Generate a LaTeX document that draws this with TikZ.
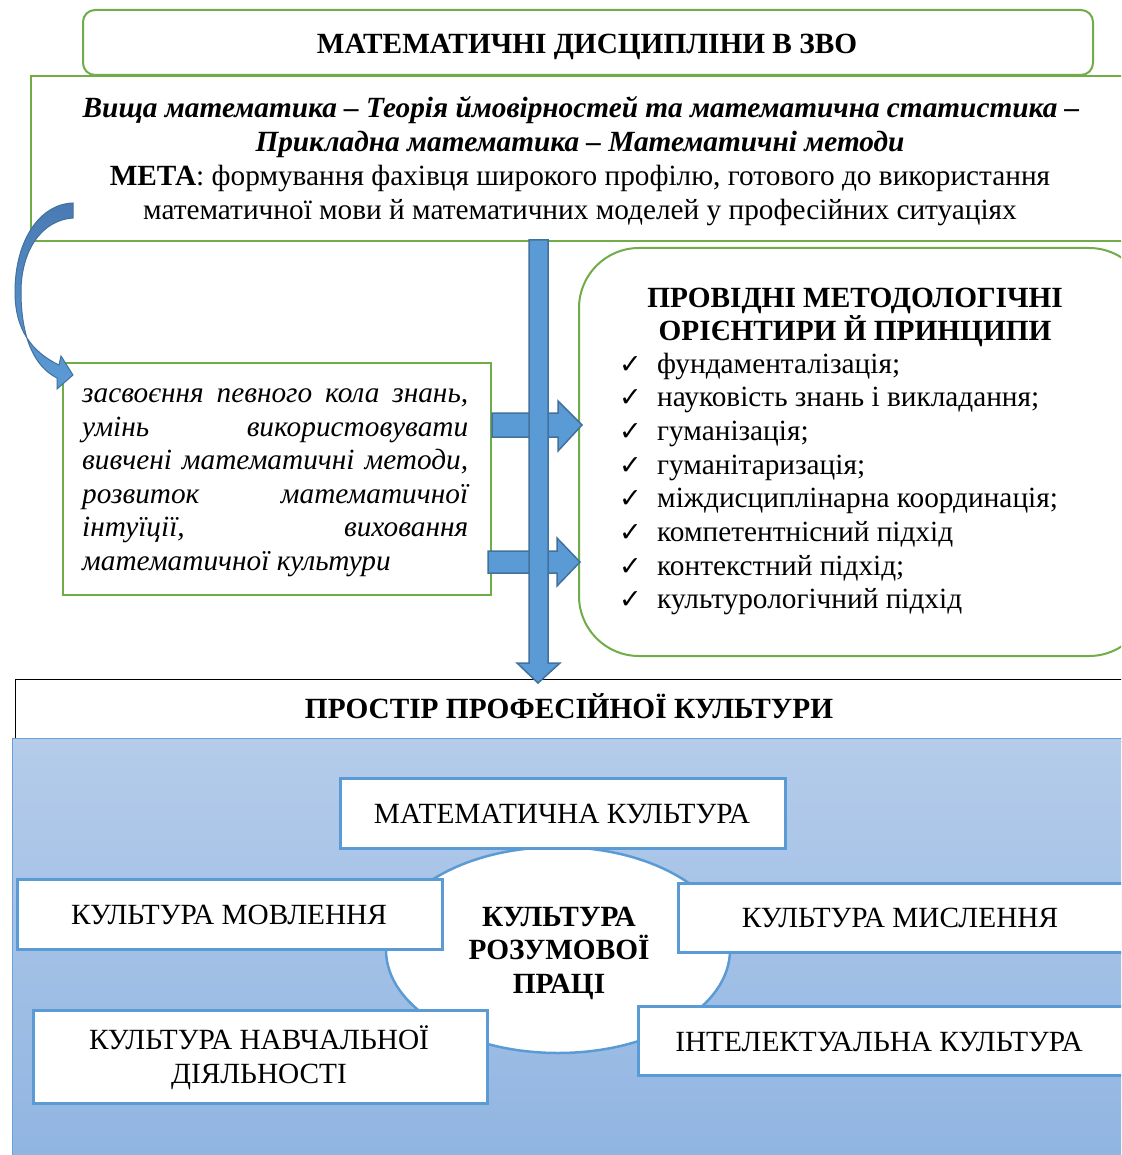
\documentclass[tikz,border=0pt]{standalone}
\usepackage{fontspec}
\setmainfont{Liberation Serif}
\newfontfamily\symfnt{DejaVu Sans}
\usetikzlibrary{shapes.geometric,calc}
\definecolor{grn}{HTML}{70AD47}
\definecolor{blu}{HTML}{5B9BD5}
\definecolor{bludk}{HTML}{41719C}
\definecolor{arrtop}{HTML}{4A7AB3}
\definecolor{bgtop}{RGB}{181,204,234}
\definecolor{bgbot}{RGB}{143,180,225}
\definecolor{bgedge}{HTML}{6A9FD8}
\newcommand{\fsz}{\fontsize{29.3}{34}\selectfont}
\tikzset{
  gbox/.style={draw=grn, line width=2pt, fill=white, inner sep=0pt, anchor=north west},
  bbox/.style={draw=blu, line width=2.5pt, fill=white, inner sep=0pt, anchor=north west},
  barrow/.style={fill=blu, draw=bludk, line width=1.5pt, line join=miter},
  txt/.style={inner sep=0pt, anchor=base, font=\fsz},
  txtl/.style={txt, anchor=base west},
}
\newcommand{\jline}[1]{\makebox[386pt][s]{#1}}
\begin{document}
\begin{tikzpicture}[x=1pt,y=-1pt]
\clip (0,0) rectangle (1121,1155);
\fill[white] (0,0) rectangle (1121,1155);

% top boxes
\node[gbox, rounded corners=12pt, minimum width=1010pt, minimum height=65pt] (top) at (82,9) {};
\node[txt, font=\fsz\bfseries] (toptxt) at (587,54) {МАТЕМАТИЧНІ ДИСЦИПЛІНИ В ЗВО};
\node[gbox, minimum width=1110pt, minimum height=165pt] (goal) at (30,75) {};
\node[txt, font=\fsz\bfseries\itshape] (g1) at (581,118) {Вища математика – Теорія ймовірностей та математична статистика –};
\node[txt, font=\fsz\bfseries\itshape] (g2) at (580,152) {Прикладна математика – Математичні методи};
\node[txt] (g3) at (580,186) {\textbf{МЕТА}: формування фахівця широкого профілю, готового до використання};
\node[txt] (g4) at (580,220) {математичної мови й математичних моделей у професійних ситуаціях};

% left box
\node[gbox, minimum width=428pt, minimum height=232pt] (left) at (62,362) {};
\begin{scope}[every node/.style={txtl, font=\fsz\itshape}]
\node (l1) at (82,402) {\jline{засвоєння певного кола знань,}};
\node (l2) at (82,436) {\jline{умінь використовувати}};
\node (l3) at (82,469) {\jline{вивчені математичні методи,}};
\node (l4) at (82,503) {\jline{розвиток математичної}};
\node (l5) at (82,536) {\jline{інтуїції, виховання}};
\node (l6) at (82,570) {математичної культури};
\end{scope}

% right box
\node[gbox, rounded corners=60pt, minimum width=570pt, minimum height=408pt] (right) at (578,247) {};
\node[txt, font=\fsz\bfseries] (rt1) at (855,307) {ПРОВІДНІ МЕТОДОЛОГІЧНІ};
\node[txt, font=\fsz\bfseries] (rt2) at (855,340) {ОРІЄНТИРИ Й ПРИНЦИПИ};
\foreach \t [count=\i] in {фундаменталізація;, науковість знань і викладання;, гуманізація;, гуманітаризація;, міждисциплінарна координація;, компетентнісний підхід, контекстний підхід;, культурологічний підхід}{
  \pgfmathsetmacro{\yy}{373+33.7*(\i-1)}
  \node[txtl, font=\fontsize{27}{30}\symfnt] (ck\i) at (619,\yy) {✓};
  \node[txtl] (it\i) at (657,\yy) {\t};
}

% horizontal block arrows
\draw[barrow] (492,413) -- (558,413) -- (558,401) -- (582,425) -- (558,451) -- (558,437) -- (492,437) -- cycle;
\draw[barrow] (488,551) -- (557,551) -- (557,538) -- (580,562) -- (557,586) -- (557,573) -- (488,573) -- cycle;

% bottom area
\node[draw=black, line width=1pt, fill=white, inner sep=0pt, anchor=north west, minimum width=1120pt, minimum height=62pt] (space) at (15,679) {};
\node[txt, font=\fsz\bfseries] (spacetxt) at (569,718) {ПРОСТІР ПРОФЕСІЙНОЇ КУЛЬТУРИ};
\shade[top color=bgtop, bottom color=bgbot, draw=bgedge, line width=1pt] (12,738) rectangle (1140,1175);

% vertical arrow
\draw[barrow] (529,240) -- (548,240) -- (548,663) -- (560,663) -- (538,683) -- (517,663) -- (529,663) -- cycle;

% curved arrow
\shade[top color=arrtop, bottom color=blu, draw=bludk, line width=1pt]
  (73,203) .. controls (40,204) and (15,240) .. (15,292)
  .. controls (15,330) and (32,352) .. (59,365)
  -- (61,356) -- (73,375) -- (57,389) -- (57,378)
  .. controls (33,366) and (21,335) .. (21,292)
  .. controls (21,250) and (42,220) .. (73,218) -- cycle;

% ellipse and culture boxes
\node[ellipse, draw=blu, line width=2.5pt, fill=white, minimum width=344pt, minimum height=206pt] (ell) at (558,950) {};
\node[bbox, minimum width=445pt, minimum height=70pt] (mk) at (339,777) {};
\node[bbox, minimum width=425pt, minimum height=70pt] (km) at (16,878) {};
\node[bbox, minimum width=470pt, minimum height=69pt] (kmy) at (677,882) {};
\node[bbox, minimum width=454pt, minimum height=93pt] (kn) at (32,1009) {};
\node[bbox, minimum width=510pt, minimum height=69pt] (ik) at (637,1005) {};

\node[txt] (mkt) at (562,823) {МАТЕМАТИЧНА КУЛЬТУРА};
\node[txt] (kmt) at (229,924) {КУЛЬТУРА МОВЛЕННЯ};
\node[txt] (kmyt) at (900,927) {КУЛЬТУРА МИСЛЕННЯ};
\node[txt] (knt1) at (259,1049) {КУЛЬТУРА НАВЧАЛЬНОЇ};
\node[txt] (knt2) at (259,1083) {ДІЯЛЬНОСТІ};
\node[txt] (ikt) at (879,1051) {ІНТЕЛЕКТУАЛЬНА КУЛЬТУРА};
\begin{scope}[every node/.style={txt, font=\fsz\bfseries}]
\node (e1) at (559,926) {КУЛЬТУРА};
\node (e2) at (559,959) {РОЗУМОВОЇ};
\node (e3) at (559,993) {ПРАЦІ};
\end{scope}
\end{tikzpicture}
\end{document}
